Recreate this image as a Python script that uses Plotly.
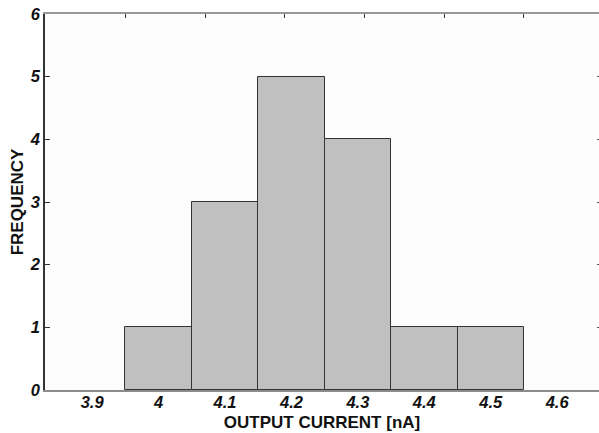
import plotly.graph_objects as go

# data
bin_centers = [4.0, 4.1, 4.2, 4.3, 4.4, 4.5]
frequency = [1, 3, 5, 4, 1, 1]
x_tick_vals = [3.9, 4.0, 4.1, 4.2, 4.3, 4.4, 4.5, 4.6]
x_tick_text = ["3.9", "4", "4.1", "4.2", "4.3", "4.4", "4.5", "4.6"]
y_tick_vals = [0, 1, 2, 3, 4, 5, 6]
top_ticks = [3.95, 4.07, 4.19, 4.31, 4.43, 4.55]
right_ticks = [1, 2, 3, 4, 5]

x_range = [3.829, 4.663]
y_range = [0, 6]

tickfont = dict(family="Liberation Sans, Arial", size=16.5, color="#111", weight="bold", style="italic")
titlefont = dict(family="Liberation Sans, Arial", size=17, color="#111", weight="bold")

fig = go.Figure()
fig.add_trace(go.Bar(
    x=bin_centers, y=frequency, width=0.1,
    marker=dict(color="#c0c0c0", line=dict(color="#333333", width=1)),
    hoverinfo="skip", showlegend=False,
))
fig.add_trace(go.Scatter(x=[None], y=[None], xaxis="x2", yaxis="y2",
                         showlegend=False, hoverinfo="skip"))

fig.update_layout(
    width=599, height=433,
    margin=dict(l=45, r=0, t=14, b=43),
    paper_bgcolor="white", plot_bgcolor="#fdfdfd",
    bargap=0,
    xaxis=dict(
        range=x_range, tickvals=x_tick_vals, ticktext=x_tick_text,
        ticks="", tickfont=tickfont, showgrid=False, zeroline=False,
        ticklabelstandoff=-4,
        showline=True, linecolor="#8c8c8c", linewidth=2,
        title=dict(text="OUTPUT CURRENT [nA]", font=titlefont, standoff=6),
    ),
    yaxis=dict(
        range=y_range, tickvals=y_tick_vals, ticks="inside", ticklen=5,
        tickcolor="#333", tickfont=tickfont, showgrid=False, zeroline=False,
        showline=True, linecolor="#333", linewidth=1.5,
        title=dict(text="FREQUENCY", font=titlefont, standoff=2),
    ),
    xaxis2=dict(
        range=x_range, overlaying="x", side="top", tickvals=top_ticks,
        showticklabels=False, ticks="inside", ticklen=4, tickcolor="#333",
        showline=True, linecolor="#999", linewidth=2, showgrid=False, zeroline=False,
    ),
    yaxis2=dict(
        range=y_range, overlaying="y", side="right", tickvals=right_ticks,
        showticklabels=False, ticks="inside", ticklen=2, tickcolor="#555",
        showline=False, showgrid=False, zeroline=False,
    ),
)

fig.write_html("out.html")
